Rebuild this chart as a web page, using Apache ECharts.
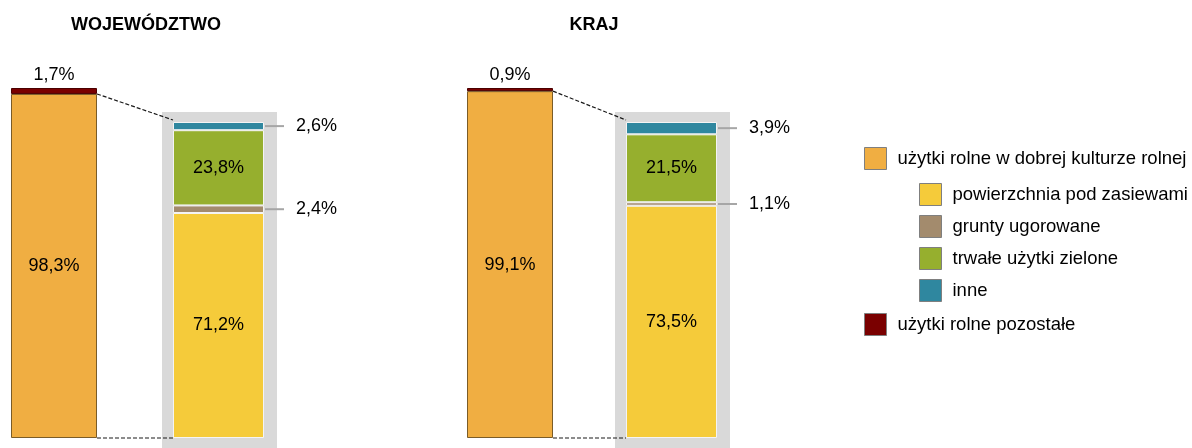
<!DOCTYPE html>
<html>
<head>
<meta charset="utf-8">
<script src="https://cdn.jsdelivr.net/npm/echarts@6/dist/echarts.min.js"></script>
<style>
  html,body{margin:0;padding:0;background:#fff;}
  #main{width:1192px;height:448px;}
</style>
</head>
<body>
<div id="main"></div>
<script>
// dane
var panels = ['WOJEWÓDZTWO', 'KRAJ'];
var dobraKultura = [98.3, 99.1];
var pozostale = [1.7, 0.9];
var zasiewy = [71.2, 73.5];
var ugory = [2.4, 1.1];
var zielone = [23.8, 21.5];
var inne = [2.6, 3.9];

var names = {
  dobra: 'użytki rolne w dobrej kulturze rolnej',
  zas: 'powierzchnia pod zasiewami',
  ugo: 'grunty ugorowane',
  ziel: 'trwałe użytki zielone',
  inne: 'inne',
  poz: 'użytki rolne pozostałe'
};
var colors = {
  dobra: '#F0AE42', zas: '#F5CB3A', ugo: '#A38B6D',
  ziel: '#96AF2E', inne: '#2F879F', poz: '#7A0000'
};

var FONT = 'Liberation Sans, Arial, sans-serif';
// uklad
var lay = [
  {bigL: 11, detL: 173},
  {bigL: 467, detL: 626}
];
var bigW = 86, bigT = 88, bigH = 350;
var detW = 91, detT = 122, detH = 316;

function fmt(v){ return v.toFixed(1).replace('.', ',') + '%'; }

var grids = [], xAxes = [], yAxes = [], series = [];
panels.forEach(function(p, i){
  var g1 = i*2, g2 = i*2+1;
  grids.push({left: lay[i].bigL, top: bigT, width: bigW, height: bigH});
  grids.push({left: lay[i].detL, top: detT, width: detW, height: detH});
  [g1, g2].forEach(function(g){
    xAxes.push({type:'category', gridIndex:g, data:[p], show:false});
    yAxes.push({type:'value', gridIndex:g, min:0, max:100, show:false});
  });
  var lblIn = {show:true, position:'inside', color:'#000', fontSize:18, fontFamily:FONT,
               formatter:function(o){return fmt(o.value);}};
  var lblRight = {show:true, position:'right', distance:32, color:'#000', fontSize:18, fontFamily:FONT,
               formatter:function(o){return fmt(o.value);}};
  series.push({
    name: names.dobra, type:'bar', stack:'a'+i, xAxisIndex:g1, yAxisIndex:g1, barWidth:'100%',
    data:[dobraKultura[i]], label: lblIn,
    itemStyle:{color:colors.dobra, borderColor:'#7a5c28', borderWidth:1}
  });
  series.push({
    name: names.poz, type:'bar', stack:'a'+i, xAxisIndex:g1, yAxisIndex:g1, barWidth:'100%',
    data:[pozostale[i]],
    label:{show:true, position:'top', distance:4, color:'#000', fontSize:18, fontFamily:FONT,
           formatter:function(o){return fmt(o.value);}},
    itemStyle:{color:colors.poz, borderColor:'#4a0000', borderWidth:1}
  });
  var det = [
    [names.zas, zasiewy, colors.zas, lblIn],
    [names.ugo, ugory, colors.ugo, lblRight],
    [names.ziel, zielone, colors.ziel, lblIn],
    [names.inne, inne, colors.inne, lblRight]
  ];
  det.forEach(function(d){
    series.push({
      name: d[0], type:'bar', stack:'b'+i, xAxisIndex:g2, yAxisIndex:g2, barWidth:'100%',
      data:[d[1][i]], label:d[3],
      itemStyle:{color:d[2], borderColor:'#f4f4f4', borderWidth:1}
    });
  });
});

var legBase = {
  selectedMode:false, icon:'rect', itemWidth:22, itemHeight:22, orient:'vertical', itemGap:9, padding:0,
  itemStyle:{borderColor:'#7f7f7f', borderWidth:1},
  textStyle:{fontSize:18.5, color:'#000', fontFamily:FONT, padding:[0,0,0,6]}
};

var myChart = echarts.init(document.getElementById('main'));
option = {
  animation:false,
  title:[
    {text:panels[0], left:146, top:16, padding:0, textAlign:'center',
     textStyle:{fontSize:18, fontWeight:'bold', color:'#000', fontFamily:FONT}},
    {text:panels[1], left:594, top:16, padding:0, textAlign:'center',
     textStyle:{fontSize:18, fontWeight:'bold', color:'#000', fontFamily:FONT}}
  ],
  legend:[
    Object.assign({}, legBase, {left:864, top:147, data:[names.dobra]}),
    Object.assign({}, legBase, {left:919, top:183, data:[names.zas, names.ugo, names.ziel, names.inne]}),
    Object.assign({}, legBase, {left:864, top:313, data:[names.poz]})
  ],
  grid:grids,
  xAxis:xAxes,
  yAxis:yAxes,
  series:series
};
option && myChart.setOption(option);

// tlo, linie przerywane, odnosniki
var gr = [];
panels.forEach(function(p, i){
  var g1 = i*2, g2 = i*2+1;
  var L = lay[i];
  gr.push({type:'rect', z:0, shape:{x:L.detL-11, y:detT-10, width:detW+24, height:448-(detT-10)},
           style:{fill:'#D9D9D9'}});
  var yTopBig = myChart.convertToPixel({yAxisIndex:g1}, dobraKultura[i]);
  var yBot = myChart.convertToPixel({yAxisIndex:g1}, 0);
  var yTopDet = myChart.convertToPixel({yAxisIndex:g2}, 100);
  var yBotDet = myChart.convertToPixel({yAxisIndex:g2}, 0);
  var dash = {stroke:'#1a1a1a', lineWidth:1.2, lineDash:[4,2]};
  gr.push({type:'line', z:10, shape:{x1:L.bigL+bigW, y1:yTopBig, x2:L.detL, y2:yTopDet-2}, style:dash});
  gr.push({type:'line', z:10, shape:{x1:L.bigL+bigW, y1:yBot, x2:L.detL, y2:yBotDet}, style:dash});
  var yUgo = myChart.convertToPixel({yAxisIndex:g2}, zasiewy[i] + ugory[i]/2);
  var yInne = myChart.convertToPixel({yAxisIndex:g2}, 100 - inne[i]/2);
  [yUgo, yInne].forEach(function(y){
    gr.push({type:'line', z:10, shape:{x1:L.detL+detW+1, y1:y, x2:L.detL+detW+20, y2:y},
             style:{stroke:'#A6A6A6', lineWidth:2}});
  });
});
myChart.setOption({graphic:gr});

window.addEventListener("resize", function(){ myChart.resize(); });
</script>
</body>
</html>
